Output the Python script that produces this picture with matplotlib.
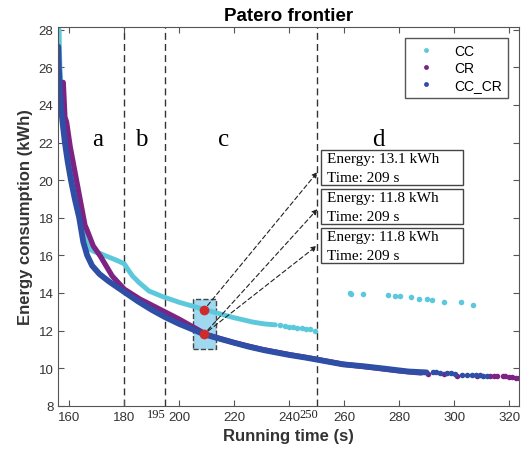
import matplotlib.pyplot as plt
from matplotlib.patches import Rectangle

# 讀圖估計的數據 (running time s, energy kWh)
cc_x = [156.3, 156.4, 156.6, 157.0, 157.6, 158.3, 159.1, 160.1, 161.2, 162.5, 164.5, 165.7,
        167.2, 169.0, 171.2, 173.4, 177.0, 180.0, 181.1, 183.0, 185.4, 189.0, 194.0, 200.0,
        204.8, 212.0, 219.4, 226.7, 231.0, 235.0]
cc_y = [28.0, 27.0, 26.0, 25.0, 24.0, 23.0, 22.0, 21.0, 20.0, 19.0, 17.8, 16.9,
        16.35, 16.2, 16.1, 15.96, 15.75, 15.55, 15.3, 14.9, 14.55, 14.1, 13.8, 13.5,
        13.3, 13.0, 12.7, 12.45, 12.35, 12.3]
cc_dot_x = [236.5, 238.3, 240.0, 241.5, 243.0, 244.5, 246.0, 247.5, 249.3,
            262.0, 262.5, 267.0, 276.0, 278.5, 280.3, 284.4, 287.3, 290.2, 292.0, 296.4, 302.6, 307.0]
cc_dot_y = [12.27, 12.24, 12.2, 12.17, 12.14, 12.12, 12.1, 12.08, 12.0,
            14.0, 13.95, 13.95, 13.9, 13.85, 13.85, 13.8, 13.7, 13.65, 13.6, 13.5, 13.5, 13.35]

cr_x = [157.8, 158.1, 158.4, 159.0, 160.3, 162.1, 163.9, 165.7, 166.3, 168.7, 171.2, 175.6,
        180.0, 185.7, 194.0, 200.0, 210.0, 220.0, 230.0, 240.0, 250.0, 260.0, 270.0, 280.0, 288.0]
cr_y = [25.2, 24.3, 23.35, 23.1, 21.8, 20.4, 19.0, 17.6, 17.4, 16.5, 15.98, 14.9,
        14.2, 13.67, 13.05, 12.6, 11.78, 11.35, 11.0, 10.72, 10.47, 10.2, 10.03, 9.85, 9.74]
cr_dot_x = [290.5, 296.2, 301.0, 308.3, 313.0, 314.5, 315.6, 317.8, 318.5, 320.0, 321.0, 322.5, 323.5]
cr_dot_y = [9.7, 9.68, 9.59, 9.59, 9.6, 9.59, 9.57, 9.57, 9.56, 9.55, 9.54, 9.5, 9.47]

ccr_x = [156.0, 156.2, 156.5, 156.9, 157.6, 158.4, 159.4, 160.6, 162.0, 163.6, 165.1, 166.5,
         168.3, 171.0, 174.5, 177.5, 180.0, 185.0, 190.0, 195.0, 200.0, 205.0, 209.0, 215.0,
         220.0, 225.0, 231.0, 240.0, 246.4, 252.0, 259.5, 267.0, 274.8, 283.3, 290.0]
ccr_y = [27.1, 26.0, 25.0, 24.0, 23.0, 22.0, 21.0, 20.0, 19.0, 18.0, 16.7, 16.0,
         15.45, 15.0, 14.6, 14.3, 14.05, 13.55, 13.1, 12.7, 12.35, 12.05, 11.8, 11.55,
         11.35, 11.15, 10.95, 10.7, 10.55, 10.4, 10.2, 10.1, 9.97, 9.82, 9.77]
ccr_dot_x = [292.3, 293.5, 294.8, 297.4, 299.0, 300.5, 302.8, 304.6, 306.5, 308.0, 309.3, 310.4, 311.9]
ccr_dot_y = [9.78, 9.8, 9.75, 9.72, 9.72, 9.7, 9.66, 9.65, 9.63, 9.62, 9.62, 9.6, 9.6]

v_lines = [180, 195, 250]
regions = ['a', 'b', 'c', 'd']
region_x = [170.4, 186.3, 216.0, 272.3]
region_y = 22.2

sel_time = 209
sel_energy = [13.1, 11.8]
box_text = ['Energy: 13.1 kWh\nTime: 209 s', 'Energy: 11.8 kWh\nTime: 209 s', 'Energy: 11.8 kWh\nTime: 209 s']

c_cc = '#5cc8dc'
c_cr = '#7d2384'
c_ccr = '#2f4ea6'

plt.rcParams['font.family'] = ['Liberation Sans', 'DejaVu Sans']
fig = plt.figure(figsize=(5.3, 4.56), dpi=100)
ax = fig.add_axes([0.110, 0.1081, 0.8692, 0.8311])

# 曲線
ax.plot(cc_x, cc_y, color=c_cc, lw=3.5, solid_capstyle='round', zorder=2)
ax.plot(cc_dot_x, cc_dot_y, 'o', color=c_cc, ms=4, mew=0, zorder=2)
ax.plot(cr_x, cr_y, color=c_cr, lw=3.8, solid_capstyle='round', zorder=2.1)
ax.plot(cr_dot_x, cr_dot_y, 'o', color=c_cr, ms=4, mew=0, zorder=2.1)
ax.plot(ccr_x, ccr_y, color=c_ccr, lw=4.2, solid_capstyle='round', zorder=2.2)
ax.plot(ccr_dot_x, ccr_dot_y, 'o', color=c_ccr, ms=4, mew=0, zorder=2.2)

# 圖例用
ax.plot([], [], 'o', color=c_cc, ms=3.5, mew=0, label='CC')
ax.plot([], [], 'o', color=c_cr, ms=3.5, mew=0, label='CR')
ax.plot([], [], 'o', color=c_ccr, ms=3.5, mew=0, label='CC_CR')

for v in v_lines:
    ax.axvline(v, color='#333333', ls=(0, (5, 3)), lw=1, zorder=1)
ax.text(195, 7.55, '195', ha='right', va='center', family='Liberation Serif', fontsize=9, color='#222')
ax.text(250.4, 7.55, '250', ha='right', va='center', family='Liberation Serif', fontsize=9, color='#222')

for lab, xx in zip(regions, region_x):
    ax.text(xx, region_y, lab, ha='center', va='center', family='Liberation Serif', fontsize=18)

# 框選區域
ax.add_patch(Rectangle((204.9, 11.0), 8.3, 2.68, fc='#9fd8ef', ec='#444444', ls='--', lw=1, zorder=1.5))
ax.plot([sel_time, sel_time], sel_energy, 'o', color='#d02a2a', ms=7, mew=0, zorder=4)

box_y = [(19.74, 21.6), (17.66, 19.53), (15.59, 17.44)]
arrow_end = [(250.3, 20.43), (250.3, 18.46), (250.0, 16.5)]
arrow_start = [(sel_time, sel_energy[0]), (sel_time, sel_energy[1]), (sel_time, sel_energy[1])]
for t, (y0, y1), e, s in zip(box_text, box_y, arrow_end, arrow_start):
    ax.add_patch(Rectangle((251.4, y0), 51.9, y1 - y0, fc='white', ec='#444444', lw=1, zorder=5))
    ax.text(253.6, (y0 + y1) / 2, t, ha='left', va='center', family='Liberation Serif',
            fontsize=11, linespacing=1.6, zorder=6)
    ax.annotate('', xy=e, xytext=s, zorder=3,
                arrowprops=dict(arrowstyle='-|>', ls=(0, (4, 2.5)), color='#222222', lw=0.8,
                                shrinkA=4, shrinkB=0, mutation_scale=8))

ax.set_xlim(156, 323.6)
ax.set_ylim(8, 28.16)
ax.set_xticks(range(160, 321, 20))
ax.set_yticks(range(8, 29, 2))
ax.tick_params(direction='in', top=True, right=True, length=4, labelsize=9.5, labelcolor='#333333', color='#555555')
for sp in ax.spines.values():
    sp.set_color('#555555')
ax.set_title('Patero frontier', fontsize=13.5, fontweight='bold', pad=5)
ax.set_xlabel('Running time (s)', fontsize=12, fontweight='bold', color='#333333', labelpad=4)
ax.set_ylabel('Energy consumption (kWh)', fontsize=12, fontweight='bold', color='#333333', labelpad=4)

ax.legend(loc='upper right', fontsize=10, fancybox=False, edgecolor='#555555', framealpha=1,
          handlelength=2.2, handletextpad=0.9, borderpad=0.45, labelspacing=0.2, borderaxespad=0.8)

plt.savefig('out.png', dpi=100)
